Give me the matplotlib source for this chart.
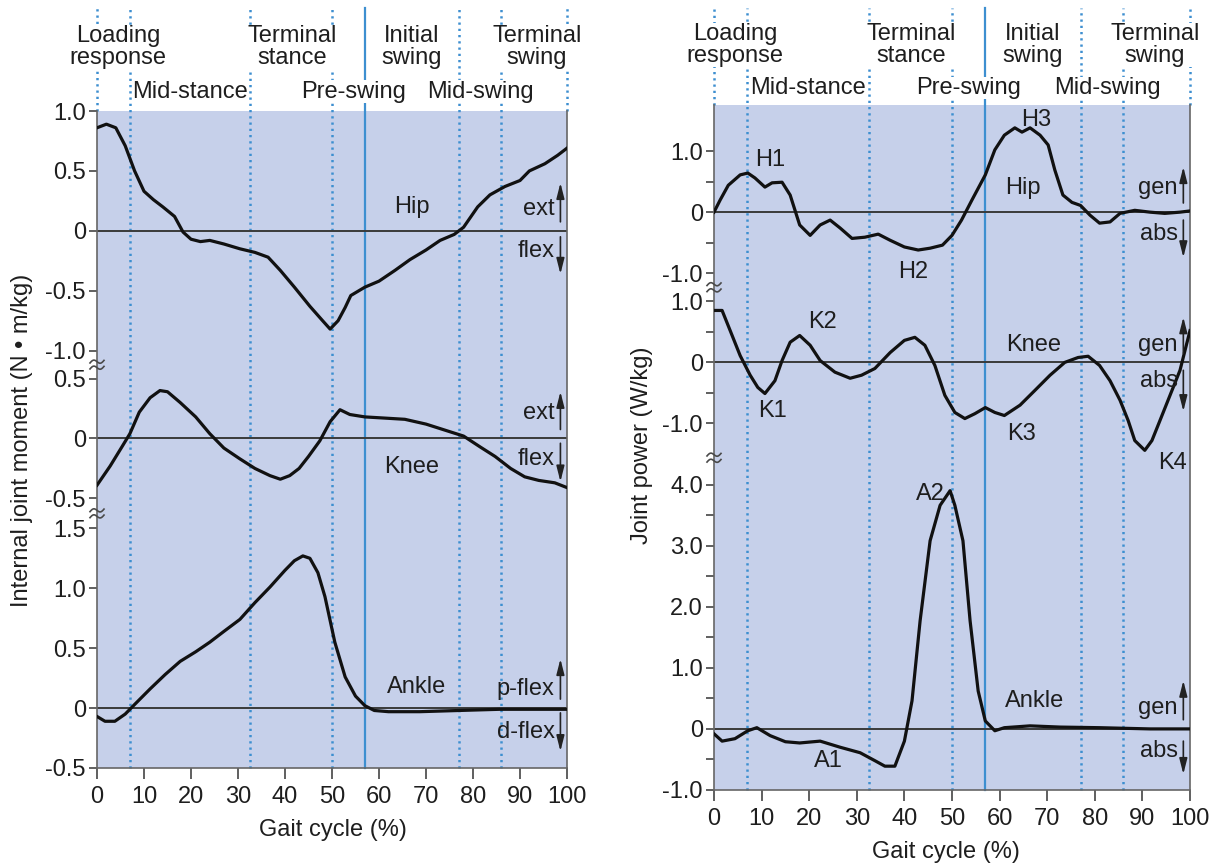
import numpy as np
import matplotlib.pyplot as plt
from matplotlib import transforms

plt.rcParams['font.family'] = ['Liberation Sans Narrow', 'Liberation Sans', 'DejaVu Sans']
plt.rcParams['font.size'] = 17
plt.rcParams['text.color'] = '#1e1e1e'
plt.rcParams['xtick.labelcolor'] = '#1e1e1e'
plt.rcParams['ytick.labelcolor'] = '#1e1e1e'

# ---------------- data (gait cycle %, value) ----------------
# internal joint moment (N*m/kg)
hip_m_x = [0, 2, 4, 6, 8, 10, 12, 14, 16.5, 18.3, 20, 22, 24, 27, 30.4, 33.6, 36.4, 39, 42, 45.3,
           48, 49.6, 51.3, 52.8, 54, 57, 60, 63.4, 66.6, 70, 73, 76, 78, 81, 83.6, 86.8, 90, 92,
           95.3, 98, 100]
hip_m_y = [0.86, 0.89, 0.86, 0.71, 0.5, 0.33, 0.26, 0.2, 0.12, -0.01, -0.07, -0.09, -0.08, -0.11,
           -0.15, -0.18, -0.22, -0.33, -0.47, -0.63, -0.75, -0.82, -0.75, -0.64, -0.54, -0.47,
           -0.42, -0.33, -0.24, -0.16, -0.08, -0.03, 0.03, 0.2, 0.3, 0.37, 0.42, 0.5, 0.56, 0.63,
           0.69]

knee_m_x = [0, 2.8, 5.3, 7, 9, 11.3, 13.4, 15, 17.7, 21, 24, 27, 30.4, 33.6, 36.8, 39, 41, 43,
            45, 47.4, 49.6, 51.7, 53.8, 57, 61.3, 65.5, 70, 74, 78, 81.5, 84.7, 88, 91, 94,
            97.4, 100]
knee_m_y = [-0.39, -0.23, -0.07, 0.04, 0.22, 0.34, 0.4, 0.39, 0.3, 0.18, 0.04, -0.08, -0.17,
            -0.25, -0.31, -0.34, -0.31, -0.25, -0.15, -0.02, 0.14, 0.24, 0.2, 0.18, 0.17, 0.16,
            0.12, 0.07, 0.02, -0.07, -0.15, -0.25, -0.32, -0.35, -0.37, -0.41]

ankle_m_x = [0, 1.7, 3.8, 6, 8, 11.3, 14.5, 17.7, 21, 24, 27, 30.4, 33.6, 36.8, 40, 42, 43.8,
             45.3, 47, 48.5, 50.6, 52.8, 55, 57, 59, 62, 68.7, 77, 85.7, 100]
ankle_m_y = [-0.07, -0.11, -0.11, -0.05, 0.03, 0.16, 0.28, 0.39, 0.47, 0.55, 0.64, 0.74, 0.88,
             1.01, 1.15, 1.23, 1.27, 1.25, 1.13, 0.93, 0.55, 0.26, 0.1, 0.02, -0.02, -0.03,
             -0.03, -0.02, -0.01, -0.01]

# joint power (W/kg)
hip_p_x = [0, 1.3, 3, 5.5, 7.1, 8.6, 10.7, 12.2, 14.3, 16, 18, 20.2, 22.3, 24.4, 26.5, 29, 31.7,
           34.5, 37, 40, 42.9, 45.4, 48, 50, 52, 54.2, 57, 59, 61, 63.2, 64.7, 66.4, 68.5, 70.2,
           71.6, 73.3, 75.2, 77, 79, 81, 83.2, 85.3, 88.4, 91.6, 94.7, 97.9, 100]
hip_p_y = [0, 0.2, 0.44, 0.61, 0.64, 0.56, 0.41, 0.48, 0.49, 0.28, -0.21, -0.38, -0.21, -0.13,
           -0.26, -0.43, -0.41, -0.36, -0.46, -0.57, -0.62, -0.59, -0.54, -0.38, -0.13, 0.2,
           0.61, 1.02, 1.26, 1.38, 1.31, 1.38, 1.26, 1.1, 0.69, 0.28, 0.16, 0.11, -0.05, -0.18,
           -0.16, -0.02, 0.03, 0, -0.02, 0, 0.02]

knee_p_x = [0, 1.7, 3.4, 5.5, 7.6, 9.2, 10.7, 12.8, 14.3, 16, 18, 20.2, 22.3, 25.4, 28.6, 31,
            33.8, 37, 40, 42.2, 44.3, 46.4, 48.5, 50.6, 52.7, 54.8, 57, 59, 61, 64.3, 67.4, 70.6,
            73.7, 76.5, 78.6, 81, 83.2, 85.3, 87, 88.4, 90.5, 92, 93.7, 95.8, 97.9, 100]
knee_p_y = [0.85, 0.85, 0.52, 0.11, -0.21, -0.41, -0.51, -0.3, 0.03, 0.33, 0.44, 0.28, 0.03,
            -0.16, -0.26, -0.21, -0.1, 0.16, 0.36, 0.41, 0.28, -0.05, -0.54, -0.82, -0.92, -0.84,
            -0.74, -0.82, -0.87, -0.7, -0.46, -0.21, 0, 0.08, 0.1, -0.05, -0.3, -0.62, -0.95,
            -1.28, -1.44, -1.28, -0.95, -0.54, -0.13, 0.52]

ankle_p_x = [0, 1.7, 4.4, 7.1, 9, 11.8, 15, 18, 22.3, 26.5, 30.7, 33.8, 35.9, 38, 40, 41.6, 43.3,
             45.4, 47.5, 49.6, 50.6, 52.3, 53.8, 55.5, 57, 59, 61, 66.4, 72.7, 81, 91.6, 100]
ankle_p_y = [-0.08, -0.2, -0.16, -0.03, 0.02, -0.11, -0.21, -0.23, -0.2, -0.3, -0.39, -0.52,
             -0.61, -0.61, -0.2, 0.46, 1.77, 3.08, 3.66, 3.9, 3.66, 3.08, 1.77, 0.62, 0.13,
             -0.03, 0.02, 0.05, 0.03, 0.02, 0, 0]

phase_lines = [7, 32.5, 50, 77, 86]
toe_off = 57
phase_top = [('Loading\nresponse', 4.5), ('Terminal\nstance', 41.5), ('Initial\nswing', 67),
             ('Terminal\nswing', 93.6)]
phase_low = [('Mid-stance', 19.8), ('Pre-swing', 54.5), ('Mid-swing', 81.5)]

# vertical offsets of the stacked joint panels (in plot units)
mom_off = {'hip': 0.0, 'knee': -1.733, 'ankle': -3.983}
pow_off = {'hip': 0.0, 'knee': -2.459, 'ankle': -8.459}

BG = '#c6d0ea'
BLUE = '#3d8fd0'
GREY = '#4a4a4a'

fig = plt.figure(figsize=(12.25, 8.67), dpi=100)
axL = fig.add_axes([97 / 1225, 1 - 768 / 867, 470 / 1225, 657 / 867])
axR = fig.add_axes([714 / 1225, 1 - 790 / 867, 476 / 1225, 685 / 867])


def style_axis(ax, top, bottom, line_top):
    ax.set_facecolor(BG)
    ax.set_xlim(0, 100)
    ax.set_ylim(bottom, top)
    ax.spines['top'].set_visible(False)
    for s in ('left', 'bottom', 'right'):
        ax.spines[s].set_color('#666666')
        ax.spines[s].set_linewidth(1.2)
    ax.set_xticks(range(0, 101, 10))
    ax.tick_params(axis='x', length=8, width=1.2, color='#444444', pad=5)
    ax.tick_params(axis='y', length=6, width=1.2, color='#444444', pad=2)
    ax.tick_params(which='minor', length=6, width=1.2, color='#444444')
    for x in phase_lines:
        ax.axvline(x, 0, line_top, color=BLUE, lw=1.8, ls=(0, (0.9, 1.6)),
                   clip_on=False, zorder=1)
    for x in (0, 100):
        ax.axvline(x, 1, line_top, color=BLUE, lw=1.8, ls=(0, (0.9, 1.6)),
                   clip_on=False, zorder=1)
    ax.axvline(toe_off, 0, line_top, color=BLUE, lw=1.6, clip_on=False, zorder=1)


def phase_labels(ax, y_top, y_low, shift):
    tr = transforms.blended_transform_factory(ax.transData, ax.transAxes)
    box = dict(facecolor='white', edgecolor='none', pad=0.3)
    for name, x in phase_top:
        ax.text(x + shift.get(name, 0), y_top, name, transform=tr, ha='center', va='center',
                linespacing=0.95, bbox=box, zorder=5)
    for name, x in phase_low:
        ax.text(x + shift.get(name, 0), y_low, name, transform=tr, ha='center', va='center',
                bbox=box, zorder=5)


def break_mark(ax, yc, amp, sep):
    tr = transforms.blended_transform_factory(ax.transAxes, ax.transData)
    t = np.linspace(0, 1, 40)
    w = 14 / (ax.get_position().width * 1225)
    for k in (-0.5, 0.5):
        ax.plot(-w / 2 + w * t, yc + k * sep + amp * np.sin(2 * np.pi * t) + amp * 1.2 * (t - 0.5),
                transform=tr, color=GREY, lw=1.2, clip_on=False, zorder=6)


def side_arrows(ax, y0, up, down, labels, x=98.6, lx=97.4):
    style = '-|>,head_width=0.14,head_length=0.55'
    ax.annotate('', xy=(x, y0 + up[1]), xytext=(x, y0 + up[0]),
                arrowprops=dict(arrowstyle=style, color='#222222', lw=1.2,
                                shrinkA=0, shrinkB=0))
    ax.annotate('', xy=(x, y0 + down[1]), xytext=(x, y0 + down[0]),
                arrowprops=dict(arrowstyle=style, color='#222222', lw=1.2,
                                shrinkA=0, shrinkB=0))
    ax.text(lx, y0 + labels[0][1], labels[0][0], ha='right', va='center')
    ax.text(lx, y0 + labels[1][1], labels[1][0], ha='right', va='center')


# ---------------- left: joint moments ----------------
style_axis(axL, 1.0, -4.483, 1.157)
for key, xs, ys in (('hip', hip_m_x, hip_m_y), ('knee', knee_m_x, knee_m_y),
                    ('ankle', ankle_m_x, ankle_m_y)):
    off = mom_off[key]
    axL.axhline(off, color='#3a3a3a', lw=1.4, zorder=2)
    axL.plot(xs, np.array(ys) + off, color='#111111', lw=2.3, zorder=3)

ticksL = [(mom_off['hip'], [1.0, 0.5, 0, -0.5, -1.0]),
          (mom_off['knee'], [0.5, 0, -0.5]),
          (mom_off['ankle'], [1.5, 1.0, 0.5, 0, -0.5])]
pos, lab = [], []
for off, vals in ticksL:
    for v in vals:
        pos.append(off + v)
        lab.append('0' if v == 0 else f'{v:.1f}')
axL.set_yticks(pos)
axL.set_yticklabels(lab)
phase_labels(axL, 1.0974, 1.029, {})
break_mark(axL, -1.117, 0.018, 0.05)
break_mark(axL, -2.358, 0.018, 0.05)

axL.text(67, mom_off['hip'] + 0.2, 'Hip', ha='center', va='center')
axL.text(67, mom_off['knee'] - 0.24, 'Knee', ha='center', va='center')
axL.text(68, mom_off['ankle'] + 0.175, 'Ankle', ha='center', va='center')
side_arrows(axL, mom_off['hip'], (0.075, 0.4), (-0.05, -0.36), [('ext', 0.18), ('flex', -0.17)])
side_arrows(axL, mom_off['knee'], (0.075, 0.39), (-0.04, -0.36), [('ext', 0.21), ('flex', -0.17)])
side_arrows(axL, mom_off['ankle'], (0.075, 0.41), (-0.04, -0.36),
            [('p-flex', 0.16), ('d-flex', -0.2)])

# ---------------- right: joint powers ----------------
style_axis(axR, 1.754, -9.459, 1.142)
for key, xs, ys in (('hip', hip_p_x, hip_p_y), ('knee', knee_p_x, knee_p_y),
                    ('ankle', ankle_p_x, ankle_p_y)):
    off = pow_off[key]
    axR.axhline(off, color='#3a3a3a', lw=1.4, zorder=2)
    axR.plot(xs, np.array(ys) + off, color='#111111', lw=2.3, zorder=3)

ticksR = [(pow_off['hip'], [1.0, 0, -1.0], [0.5, -0.5]),
          (pow_off['knee'], [1.0, 0, -1.0], [0.5, -0.5]),
          (pow_off['ankle'], [4.0, 3.0, 2.0, 1.0, 0, -1.0], [3.5, 2.5, 1.5, 0.5, -0.5])]
pos, lab, mpos = [], [], []
for off, vals, minor in ticksR:
    for v in vals:
        pos.append(off + v)
        lab.append('0' if v == 0 else f'{v:.1f}')
    mpos += [off + m for m in minor]
axR.set_yticks(pos)
axR.set_yticklabels(lab)
axR.set_yticks(mpos, minor=True)
phase_labels(axR, 1.0876, 1.0248,
             {'Loading\nresponse': -0.1, 'Mid-stance': -0.1, 'Pre-swing': -1.1,
              'Mid-swing': 1.1, 'Terminal\nswing': -1})
break_mark(axR, -1.23, 0.035, 0.1)
break_mark(axR, -4.02, 0.035, 0.1)

for txt, x, y in (('H1', 11.8, 0.85), ('H2', 41.8, -0.98), ('H3', 67.6, 1.51), ('Hip', 64.9, 0.39)):
    axR.text(x, pow_off['hip'] + y, txt, ha='center', va='center')
for txt, x, y in (('K1', 12.2, -0.79), ('K2', 22.7, 0.66), ('K3', 64.7, -1.17),
                  ('K4', 96.4, -1.64), ('Knee', 67.2, 0.28)):
    axR.text(x, pow_off['knee'] + y, txt, ha='center', va='center')
for txt, x, y in (('A1', 24, -0.52), ('A2', 45.4, 3.84), ('Ankle', 67.4, 0.46)):
    axR.text(x, pow_off['ankle'] + y, txt, ha='center', va='center')
side_arrows(axR, pow_off['hip'], (0.15, 0.74), (-0.13, -0.74), [('gen', 0.39), ('abs', -0.36)])
side_arrows(axR, pow_off['knee'], (0.15, 0.74), (-0.13, -0.8), [('gen', 0.28), ('abs', -0.3)])
side_arrows(axR, pow_off['ankle'], (0.15, 0.79), (-0.2, -0.74), [('gen', 0.34), ('abs', -0.36)])

# ---------------- axis titles ----------------
fig.text(333 / 1225, 1 - 830 / 867, 'Gait cycle (%)', ha='center', va='center')
fig.text(946 / 1225, 1 - 852 / 867, 'Gait cycle (%)', ha='center', va='center')
fig.text(22 / 1225, 1 - 440 / 867, 'Internal joint moment (N \u2022 m/kg)', rotation=90,
         ha='center', va='center')
fig.text(642 / 1225, 1 - 445 / 867, 'Joint power (W/kg)', rotation=90, ha='center', va='center')

fig.savefig('out.png', dpi=100, facecolor='white')
